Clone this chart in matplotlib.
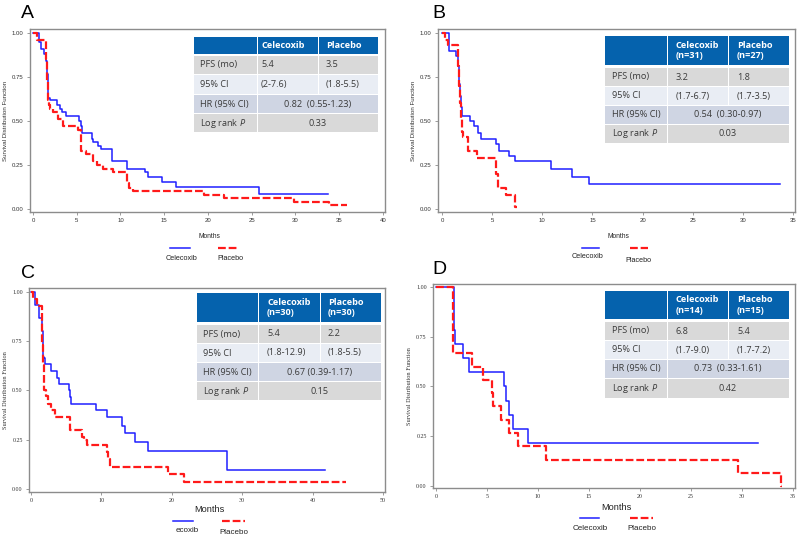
import matplotlib
matplotlib.use("Agg")
import matplotlib.pyplot as plt
from matplotlib.patches import Rectangle
from matplotlib.lines import Line2D

W, H = 800, 538

# ---- survival curves (times where the step happens, survival after the step) ----
# panel A
a_cel_t = [0, 0.7, 0.95, 1.25, 1.45, 1.6, 1.7, 1.75, 2.0, 2.7, 3.05, 3.3, 3.75, 5.3, 5.45,
           5.65, 6.7, 6.9, 7.45, 7.8, 9.0, 10.8, 12.8, 13.2, 14.7, 16.4, 25.8]
a_cel_s = [1.0, 0.95, 0.91, 0.88, 0.84, 0.77, 0.70, 0.63, 0.62, 0.59, 0.57, 0.55, 0.53, 0.50, 0.47,
           0.43, 0.40, 0.38, 0.36, 0.34, 0.27, 0.23, 0.21, 0.18, 0.155, 0.125, 0.085]
a_cel_end = 33.7
a_pla_t = [0, 0.45, 1.5, 1.65, 1.75, 1.85, 2.0, 2.3, 2.85, 3.45, 5.15, 5.5, 6.1, 6.9, 7.3, 8.0,
           9.2, 10.8, 11.0, 11.45, 19.5, 21.8, 29.8, 33.8]
a_pla_s = [1.0, 0.96, 0.85, 0.72, 0.62, 0.59, 0.57, 0.55, 0.51, 0.47, 0.45, 0.33, 0.31, 0.27, 0.25, 0.23,
           0.21, 0.15, 0.12, 0.10, 0.08, 0.06, 0.04, 0.02]
a_pla_end = 35.9

# panel B
b_cel_t = [0, 0.65, 1.4, 1.55, 1.65, 1.75, 1.85, 2.0, 2.75, 3.15, 3.55, 3.85, 5.4, 5.65, 6.65,
           7.25, 10.85, 12.95, 14.7]
b_cel_s = [1.0, 0.90, 0.87, 0.81, 0.71, 0.64, 0.58, 0.53, 0.50, 0.47, 0.43, 0.40, 0.37, 0.33, 0.30,
           0.27, 0.23, 0.18, 0.14]
b_cel_end = 33.7
b_pla_t = [0, 0.25, 0.6, 1.6, 1.7, 1.8, 1.9, 2.0, 2.1, 2.6, 3.5, 5.4, 5.55, 6.4, 7.3]
b_pla_s = [1.0, 0.96, 0.93, 0.81, 0.70, 0.60, 0.52, 0.44, 0.41, 0.33, 0.29, 0.20, 0.12, 0.08, 0.01]
b_pla_end = 7.45

# panel C
c_cel_t = [0, 0.6, 1.15, 1.55, 1.65, 1.75, 1.9, 2.05, 2.9, 3.75, 3.95, 5.35, 5.5, 5.65, 9.2,
           10.8, 12.9, 13.3, 14.75, 16.6, 27.9]
c_cel_s = [1.0, 0.935, 0.87, 0.80, 0.73, 0.67, 0.665, 0.635, 0.60, 0.565, 0.535, 0.50, 0.465, 0.43, 0.40,
           0.365, 0.32, 0.285, 0.24, 0.195, 0.095]
c_cel_end = 41.7
c_pla_t = [0, 0.35, 0.9, 1.5, 1.6, 1.7, 1.8, 1.9, 2.1, 2.4, 2.9, 3.4, 5.5, 7.2, 7.6, 8.0,
           10.75, 11.0, 11.2, 19.4, 21.8]
c_pla_s = [1.0, 0.965, 0.93, 0.83, 0.73, 0.63, 0.55, 0.50, 0.47, 0.43, 0.40, 0.365, 0.30, 0.265, 0.25, 0.225,
           0.19, 0.15, 0.11, 0.074, 0.037]
c_pla_end = 44.8

# panel D
d_cel_t = [0, 1.72, 1.76, 1.8, 1.88, 2.7, 3.2, 6.7, 6.85, 7.2, 7.6, 9.0]
d_cel_s = [1.0, 0.929, 0.857, 0.786, 0.714, 0.643, 0.571, 0.50, 0.429, 0.357, 0.286, 0.214]
d_cel_end = 31.6
d_pla_t = [0, 1.68, 3.5, 4.6, 5.45, 5.6, 6.35, 7.2, 8.05, 10.75, 29.6, 33.85]
d_pla_s = [1.0, 0.667, 0.60, 0.533, 0.467, 0.40, 0.333, 0.267, 0.20, 0.133, 0.067, 0.0]
d_pla_end = 33.9

# ---- table contents ----
row_labels = ["PFS (mo)", "95% CI", "HR (95% CI)", "Log rank $\\mathit{P}$"]
a_head = ["Celecoxib", "Placebo"]
a_pfs = ["5.4", "3.5"]
a_ci = ["(2-7.6)", "(1.8-5.5)"]
a_hr = "0.82  (0.55-1.23)"
a_p = "0.33"
b_head = ["Celecoxib\n(n=31)", "Placebo\n(n=27)"]
b_pfs = ["3.2", "1.8"]
b_ci = ["(1.7-6.7)", "(1.7-3.5)"]
b_hr = "0.54  (0.30-0.97)"
b_p = "0.03"
c_head = ["Celecoxib\n(n=30)", "Placebo\n(n=30)"]
c_pfs = ["5.4", "2.2"]
c_ci = ["(1.8-12.9)", "(1.8-5.5)"]
c_hr = "0.67 (0.39-1.17)"
c_p = "0.15"
d_head = ["Celecoxib\n(n=14)", "Placebo\n(n=15)"]
d_pfs = ["6.8", "5.4"]
d_ci = ["(1.7-9.0)", "(1.7-7.2)"]
d_hr = "0.73  (0.33-1.61)"
d_p = "0.42"

legend_a = ["Celecoxib", "Placebo"]
legend_c = ["ecoxib", "Placebo"]

plt.rcParams['mathtext.fontset'] = 'custom'
plt.rcParams['mathtext.it'] = 'Open Sans:italic'
plt.rcParams['mathtext.rm'] = 'Open Sans'

fig = plt.figure(figsize=(W / 100, H / 100), dpi=100)
fig.patch.set_facecolor("white")


def fx(x):
    return x / W


def fy(y):
    return 1 - y / H


BLUE = "#1f1fff"
RED = "#ff1a1a"
HEAD = "#0562ad"
ROWC = ["#d9d9d9", "#e9edf4", "#cfd5e3", "#d9d9d9"]
TXT = "#3a3a3a"
SPINE = "#8c8c8c"


def draw_km(box, xlim, ylim, xticks, cel, pla, serif, months_fs, months_y):
    left, top, right, bottom = box
    ax = fig.add_axes([fx(left), fy(bottom), (right - left) / W, (bottom - top) / H])
    for t, s, end, col, ls, lw in [(cel[0], cel[1], cel[2], BLUE, "-", 1.1),
                                    (pla[0], pla[1], pla[2], RED, (0, (3.5, 1.3)), 1.6)]:
        ax.step(list(t) + [end], list(s) + [s[-1]], where="post", color=col, linestyle=ls, lw=lw)
    ax.set_xlim(*xlim)
    ax.set_ylim(*ylim)
    ax.set_xticks(xticks)
    ax.set_yticks([0, 0.25, 0.5, 0.75, 1.0])
    ax.set_yticklabels(["0.00", "0.25", "0.50", "0.75", "1.00"])
    fam = "Liberation Serif" if serif else "Liberation Sans"
    ax.tick_params(length=2.5, width=0.6, color=SPINE, labelsize=4.3, pad=2, labelcolor="#333333")
    for lab in ax.get_xticklabels() + ax.get_yticklabels():
        lab.set_family(fam)
    for sp in ax.spines.values():
        sp.set_color(SPINE)
        sp.set_linewidth(1.0)
    ax.set_ylabel("Survival Distribution Function", fontsize=4.5, family=fam, color="#333333", labelpad=3)
    fig.text(fx((left + right) / 2 + 2), fy(months_y), "Months", fontsize=months_fs,
             family="Liberation Sans", ha="center", va="center", color="#222222")
    return ax


def draw_table(cols, rows, head, pfs, ci, hr, p, tx, fs=6.6):
    for r in range(5):
        y0, y1 = rows[r]
        color = HEAD if r == 0 else ROWC[r - 1]
        if r in (3, 4):
            spans = [(cols[0], cols[1]), (cols[1], cols[3])]
        else:
            spans = [(cols[0], cols[1]), (cols[1], cols[2]), (cols[2], cols[3])]
        for x0, x1 in spans:
            fig.patches.append(Rectangle((fx(x0 + 0.5), fy(y1)), (x1 - x0 - 1) / W, (y1 - y0) / H,
                                         transform=fig.transFigure, facecolor=color, edgecolor="none"))
    yc = [(a + b) / 2 for a, b in rows]
    fig.text(fx(tx[1]), fy(yc[0]), head[0], fontsize=fs, family="Open Sans", weight="bold",
             color="white", ha="left", va="center", linespacing=1.25)
    fig.text(fx(tx[2]), fy(yc[0]), head[1], fontsize=fs, family="Open Sans", weight="bold",
             color="white", ha="left", va="center", linespacing=1.25)
    for i, lab in enumerate(row_labels):
        fig.text(fx(tx[0]), fy(yc[i + 1]), lab, fontsize=fs, family="Open Sans", color=TXT,
                 ha="left", va="center")
    for j in range(2):
        fig.text(fx(tx[j + 1]), fy(yc[1]), pfs[j], fontsize=fs, family="Open Sans", color=TXT,
                 ha="left", va="center")
        fig.text(fx(tx[j + 1]), fy(yc[2]), ci[j], fontsize=fs, family="Open Sans", color=TXT,
                 ha="left", va="center")
    mid = (cols[1] + cols[3]) / 2
    fig.text(fx(mid), fy(yc[3]), hr, fontsize=fs, family="Open Sans", color=TXT, ha="center", va="center")
    fig.text(fx(mid), fy(yc[4]), p, fontsize=fs, family="Open Sans", color=TXT, ha="center", va="center")


def draw_legend(blue_x, red_x, line_y, blue_txt, red_txt, labels, fs):
    fig.add_artist(Line2D([fx(blue_x[0]), fx(blue_x[1])], [fy(line_y), fy(line_y)],
                          color=BLUE, lw=1.1, transform=fig.transFigure))
    fig.add_artist(Line2D([fx(red_x[0]), fx(red_x[1])], [fy(line_y), fy(line_y)],
                          color=RED, lw=1.6, linestyle=(0, (3.5, 1.3)), transform=fig.transFigure))
    fig.text(fx(blue_txt[0]), fy(blue_txt[1]), labels[0], fontsize=fs, family="Liberation Sans",
             ha="center", va="center", color="#222222")
    fig.text(fx(red_txt[0]), fy(red_txt[1]), labels[1], fontsize=fs, family="Liberation Sans",
             ha="center", va="center", color="#222222")


# panel A
draw_km((30, 29, 385, 212), (-0.34, 40.23), (-0.017, 1.023), range(0, 41, 5),
        (a_cel_t, a_cel_s, a_cel_end), (a_pla_t, a_pla_s, a_pla_end), False, 4.8, 237)
draw_table([193, 257, 318, 378], [(37, 54), (55.5, 74), (75, 94), (95, 113), (114, 132)],
           a_head, a_pfs, a_ci, a_hr, a_p, [200, 261, 326])
draw_legend((170, 190), (218, 238), 248, (182, 258), (230, 258), legend_a, 5.2)
fig.text(fx(21), fy(13), "A", fontsize=14, family="Liberation Sans", va="center", ha="left")

# panel B
draw_km((438, 29, 795, 212), (-0.4, 35.2), (-0.017, 1.023), range(0, 36, 5),
        (b_cel_t, b_cel_s, b_cel_end), (b_pla_t, b_pla_s, b_pla_end), False, 4.8, 237)
draw_table([604, 667, 728, 789], [(36, 65), (68, 86), (87, 105), (106, 124), (125, 143)],
           b_head, b_pfs, b_ci, b_hr, b_p, [612, 676, 737])
draw_legend((582, 599), (630, 648), 248, (588, 257), (638, 261), legend_a, 5.2)
fig.text(fx(432), fy(13), "B", fontsize=14, family="Liberation Sans", va="center", ha="left")

# panel C
draw_km((29, 288, 385, 492), (-0.28, 50.28), (-0.015, 1.02), range(0, 51, 10),
        (c_cel_t, c_cel_s, c_cel_end), (c_pla_t, c_pla_s, c_pla_end), True, 6.6, 509)
draw_table([196, 258, 320, 381], [(293, 322), (325, 343), (344, 362), (363, 381), (382, 400)],
           c_head, c_pfs, c_ci, c_hr, c_p, [203, 267, 328])
draw_legend((173, 193), (222, 245), 521, (187, 531), (234, 532), legend_c, 5.8)
fig.text(fx(21), fy(274), "C", fontsize=14, family="Liberation Sans", va="center", ha="left")

# panel D
draw_km((433, 284, 795, 488), (-0.29, 35.2), (-0.01, 1.015), range(0, 36, 5),
        (d_cel_t, d_cel_s, d_cel_end), (d_pla_t, d_pla_s, d_pla_end), True, 6.6, 507)
draw_table([604, 667, 728, 789], [(291, 319), (322, 340), (341, 359), (360, 378), (379, 398)],
           d_head, d_pfs, d_ci, d_hr, d_p, [612, 676, 737])
draw_legend((580, 599), (630, 653), 518, (590, 528), (642, 529), legend_a, 5.8)
fig.text(fx(432), fy(269), "D", fontsize=14, family="Liberation Sans", va="center", ha="left")

fig.savefig("out.png", dpi=100, facecolor="white")
